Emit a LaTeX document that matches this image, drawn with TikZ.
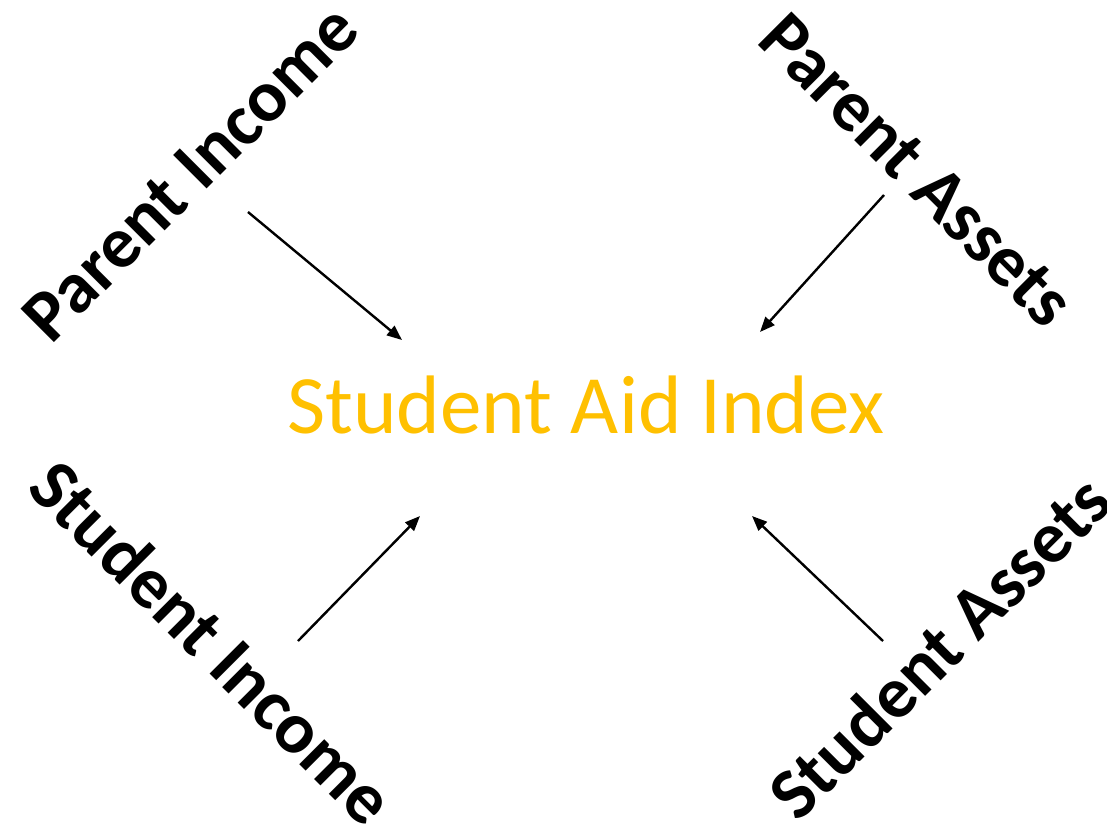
\documentclass[tikz,border=0pt]{standalone}
\usepackage{fontspec}
\setmainfont{Carlito}
\usetikzlibrary{arrows.meta}

\definecolor{aidgold}{HTML}{FFC000}

\begin{document}
\begin{tikzpicture}[x=1pt,y=-1pt]

      \useasboundingbox (0,0) rectangle (1107,831);

      \node[text=aidgold,font=\fontsize{83}{83}\selectfont] (sai) at (586,405) {Student Aid Index};

      \begin{scope}[every node/.style={font=\bfseries\fontsize{73}{73}\selectfont}]
        \node[rotate=45]  (pinc) at (190,173) {Parent Income};
        \node[rotate=-45] (pass) at (917,170) {Parent Assets};
        \node[rotate=-45] (sinc) at (213,642) {Student Income};
        \node[rotate=45]  (sass) at (939,647) {Student Assets};
      \end{scope}

      % arrow ends
      \coordinate (pinc-a) at (248,212);
      \coordinate (pinc-b) at (402,340);
      \coordinate (pass-a) at (884,195);
      \coordinate (pass-b) at (760,332);
      \coordinate (sinc-a) at (298,641);
      \coordinate (sinc-b) at (420,516);
      \coordinate (sass-a) at (883,641);
      \coordinate (sass-b) at (752,516);

      \begin{scope}[every edge/.style={draw,line width=2.4pt,-{Triangle[length=15pt,width=12pt]}}]
        \path (pinc-a) edge (pinc-b);
        \path (pass-a) edge (pass-b);
        \path (sinc-a) edge (sinc-b);
        \path (sass-a) edge (sass-b);
      \end{scope}

    \end{tikzpicture}
\end{document}
